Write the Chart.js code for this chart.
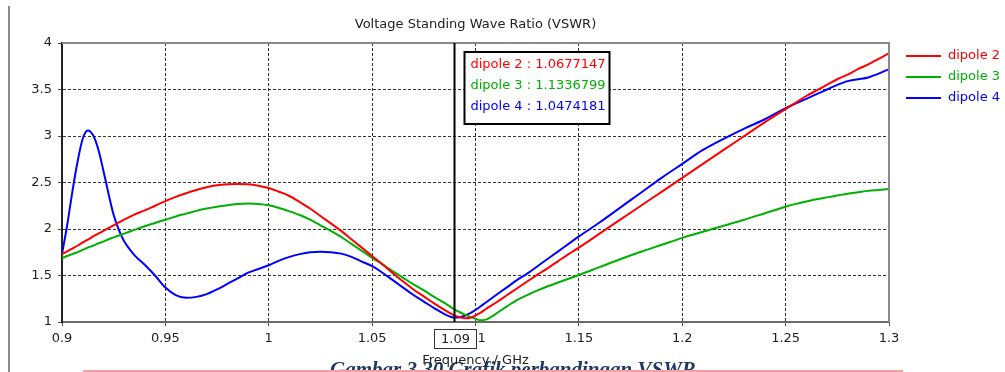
<!DOCTYPE html>
<html>
<head>
<meta charset="utf-8">
<title>VSWR</title>
<script src="https://cdn.jsdelivr.net/npm/chart.js@4.4.1/dist/chart.umd.min.js"></script>
<style>
  html, body { margin: 0; padding: 0; background: #ffffff; }
  #wrap { width: 1005px; height: 372px; position: relative; overflow: hidden; }
</style>
</head>
<body>
<div id="wrap"><canvas id="vswr" width="1005" height="372"></canvas></div>
<script>
// Frequency sweep (GHz) shared by all three antennas
const frequencies = [
  0.900, 0.9025, 0.905, 0.9075, 0.910, 0.9125, 0.915, 0.9175, 0.920, 0.9225,
  0.925, 0.9275, 0.930, 0.935, 0.940, 0.945, 0.950, 0.955, 0.960, 0.965,
  0.970, 0.975, 0.980, 0.985, 0.990, 0.995, 1.000, 1.005, 1.010, 1.015,
  1.020, 1.025, 1.030, 1.035, 1.040, 1.045, 1.050, 1.055, 1.060, 1.065,
  1.070, 1.075, 1.080, 1.085, 1.090, 1.0925, 1.095, 1.0975, 1.100, 1.1025,
  1.105, 1.110, 1.115, 1.120, 1.125, 1.130, 1.135, 1.140, 1.145, 1.150,
  1.160, 1.170, 1.180, 1.190, 1.200, 1.210, 1.220, 1.230, 1.240, 1.250,
  1.255, 1.260, 1.265, 1.270, 1.275, 1.280, 1.285, 1.290, 1.295, 1.300
];

// VSWR of each dipole at the frequencies above
const dipole2 = [
  1.73, 1.76, 1.79, 1.82, 1.855, 1.885, 1.92, 1.95, 1.98, 2.01,
  2.04, 2.07, 2.10, 2.155, 2.20, 2.25, 2.30, 2.345, 2.385, 2.42,
  2.45, 2.47, 2.48, 2.485, 2.48, 2.465, 2.44, 2.40, 2.355, 2.29,
  2.22, 2.14, 2.06, 1.98, 1.89, 1.80, 1.71, 1.62, 1.525, 1.435,
  1.35, 1.275, 1.20, 1.13, 1.0677147, 1.05, 1.04, 1.045, 1.07, 1.10,
  1.14, 1.21, 1.285, 1.36, 1.435, 1.51, 1.58, 1.655, 1.73, 1.80,
  1.95, 2.10, 2.25, 2.40, 2.55, 2.70, 2.85, 3.00, 3.15, 3.29,
  3.36, 3.43, 3.49, 3.55, 3.61, 3.66, 3.72, 3.77, 3.83, 3.89
];
const dipole3 = [
  1.685, 1.71, 1.73, 1.75, 1.775, 1.80, 1.82, 1.845, 1.865, 1.89,
  1.91, 1.93, 1.95, 1.99, 2.03, 2.065, 2.10, 2.135, 2.165, 2.195,
  2.22, 2.24, 2.255, 2.27, 2.275, 2.27, 2.255, 2.225, 2.19, 2.15,
  2.10, 2.04, 1.98, 1.915, 1.84, 1.765, 1.69, 1.62, 1.545, 1.475,
  1.405, 1.34, 1.27, 1.205, 1.1336799, 1.105, 1.08, 1.055, 1.035, 1.018,
  1.025, 1.09, 1.165, 1.235, 1.29, 1.34, 1.385, 1.425, 1.465, 1.505,
  1.59, 1.675, 1.755, 1.83, 1.905, 1.97, 2.035, 2.10, 2.17, 2.24,
  2.27, 2.295, 2.32, 2.34, 2.36, 2.38, 2.395, 2.41, 2.42, 2.43
];
const dipole4 = [
  1.73, 2.04, 2.40, 2.72, 2.97, 3.06, 3.01, 2.86, 2.63, 2.38,
  2.15, 1.99, 1.87, 1.72, 1.615, 1.50, 1.37, 1.29, 1.26, 1.27,
  1.30, 1.35, 1.41, 1.47, 1.53, 1.57, 1.61, 1.66, 1.70, 1.73,
  1.75, 1.755, 1.75, 1.735, 1.70, 1.65, 1.60, 1.53, 1.45, 1.37,
  1.29, 1.22, 1.15, 1.085, 1.0474181, 1.05, 1.07, 1.095, 1.13, 1.17,
  1.21, 1.29, 1.37, 1.45, 1.52, 1.60, 1.68, 1.76, 1.84, 1.92,
  2.07, 2.23, 2.39, 2.55, 2.70, 2.85, 2.97, 3.08, 3.18, 3.30,
  3.35, 3.40, 3.45, 3.50, 3.55, 3.59, 3.61, 3.63, 3.67, 3.72
];

const seriesNames = ['dipole 2', 'dipole 3', 'dipole 4'];
const seriesValues = [dipole2, dipole3, dipole4];
const seriesColors = ['#ff0000', '#00b000', '#0000ff'];

const xRange = [0.9, 1.3];
const xStep = 0.05;
const yRange = [1, 4];
const yStep = 0.5;

const chartTitle = 'Voltage Standing Wave Ratio (VSWR)';
const xAxisTitle = 'Frequency / GHz';
const markerFrequency = 1.09;
const captionText = 'Gambar 3.30 Grafik perbandingan VSWR';

const uiFont = '"DejaVu Sans", Verdana, sans-serif';

function fmtTick(v) {
  return String(parseFloat(Number(v).toFixed(3)));
}

function isEdge(value, range) {
  return Math.abs(value - range[0]) < 1e-9 || Math.abs(value - range[1]) < 1e-9;
}

// Extra drawing: title, frame, marker line with read-out, legend, caption
const decorations = {
  id: 'decorations',
  beforeDraw(chart) {
    const ctx = chart.ctx;
    ctx.save();
    // page margin rule on the left
    ctx.strokeStyle = '#8c8c8c';
    ctx.lineWidth = 2;
    ctx.beginPath();
    ctx.moveTo(9, 6);
    ctx.lineTo(9, 372);
    ctx.stroke();
    // document caption below the plot
    ctx.fillStyle = '#1f3864';
    ctx.font = 'bold italic 21px "Liberation Serif", serif';
    ctx.textAlign = 'left';
    ctx.textBaseline = 'alphabetic';
    ctx.fillText(captionText, 330, 376);
    ctx.strokeStyle = '#f2a0a0';
    ctx.lineWidth = 2;
    ctx.beginPath();
    ctx.moveTo(83, 371);
    ctx.lineTo(903, 371);
    ctx.stroke();
    ctx.restore();
  },
  afterDatasetsDraw(chart) {
    const ctx = chart.ctx;
    const area = chart.chartArea;
    const xs = chart.scales.x;
    ctx.save();
    // top and right frame
    ctx.strokeStyle = '#8a8a8a';
    ctx.lineWidth = 2;
    ctx.beginPath();
    ctx.moveTo(area.left, area.top);
    ctx.lineTo(area.right, area.top);
    ctx.lineTo(area.right, area.bottom);
    ctx.stroke();
    // marker line
    const mx = Math.round(xs.getPixelForValue(markerFrequency)) - 0.5;
    ctx.strokeStyle = '#000000';
    ctx.lineWidth = 2;
    ctx.beginPath();
    ctx.moveTo(mx, area.top);
    ctx.lineTo(mx, area.bottom);
    ctx.stroke();
    ctx.restore();
  },
  afterDraw(chart) {
    const ctx = chart.ctx;
    const area = chart.chartArea;
    const xs = chart.scales.x;
    const mx = Math.round(xs.getPixelForValue(markerFrequency)) - 0.5;
    const idx = frequencies.findIndex(f => Math.abs(f - markerFrequency) < 1e-9);
    ctx.save();

    // chart title
    ctx.fillStyle = '#222222';
    ctx.font = '13px ' + uiFont;
    ctx.textAlign = 'center';
    ctx.textBaseline = 'middle';
    ctx.fillText(chartTitle, (area.left + area.right) / 2, 25);

    // x-axis title
    ctx.fillText(xAxisTitle, (area.left + area.right) / 2, 361);

    // marker frequency box on the x axis
    const bw = 42, bh = 19;
    const bx = Math.round(mx - bw / 2) + 0.5, by = 329.5;
    ctx.fillStyle = '#ffffff';
    ctx.fillRect(bx, by, bw, bh);
    ctx.strokeStyle = '#333333';
    ctx.lineWidth = 1;
    ctx.strokeRect(bx, by, bw, bh);
    ctx.fillStyle = '#222222';
    ctx.fillText(fmtTick(markerFrequency), bx + bw / 2, by + bh / 2 + 0.5);

    // read-out box at the marker
    const tx = mx + 10, ty = 52, tw = 145, th = 72;
    ctx.fillStyle = '#ffffff';
    ctx.fillRect(tx, ty, tw, th);
    ctx.strokeStyle = '#000000';
    ctx.lineWidth = 2;
    ctx.strokeRect(tx, ty, tw, th);
    ctx.textAlign = 'left';
    seriesNames.forEach((name, i) => {
      ctx.fillStyle = seriesColors[i];
      ctx.fillText(name + ' : ' + seriesValues[i][idx].toFixed(7), tx + 6, 65 + i * 21);
    });

    // legend
    seriesNames.forEach((name, i) => {
      const ly = 56 + i * 21;
      ctx.strokeStyle = seriesColors[i];
      ctx.lineWidth = 2;
      ctx.beginPath();
      ctx.moveTo(906, ly);
      ctx.lineTo(941, ly);
      ctx.stroke();
      ctx.fillStyle = seriesColors[i];
      ctx.fillText(name, 948, ly);
    });
    ctx.restore();
  }
};

const datasets = seriesValues.map((vals, i) => ({
  label: seriesNames[i],
  data: frequencies.map((f, j) => ({ x: f, y: vals[j] })),
  borderColor: seriesColors[i],
  backgroundColor: seriesColors[i],
  borderWidth: 2,
  pointRadius: 0,
  fill: false,
  cubicInterpolationMode: 'monotone'
}));

new Chart(document.getElementById('vswr'), {
  type: 'line',
  data: { datasets },
  options: {
    responsive: false,
    animation: false,
    devicePixelRatio: 1,
    layout: { padding: { left: 0, right: 116, top: 43, bottom: 0 } },
    plugins: {
      legend: { display: false },
      title: { display: false },
      tooltip: { enabled: false }
    },
    scales: {
      x: {
        type: 'linear',
        min: xRange[0],
        max: xRange[1],
        afterFit: s => { s.height = 50; },
        ticks: {
          stepSize: xStep,
          autoSkip: false,
          maxRotation: 0,
          padding: 5,
          color: '#222222',
          font: { family: uiFont, size: 13 },
          callback: v => fmtTick(v)
        },
        grid: {
          color: c => (c.tick && isEdge(c.tick.value, xRange)) ? 'rgba(0,0,0,0)' : '#333333',
          lineWidth: 1,
          tickLength: 4,
          tickColor: '#555555',
          tickWidth: 1
        },
        border: { color: '#6a6a6a', width: 2, dash: [3, 2] }
      },
      y: {
        type: 'linear',
        min: yRange[0],
        max: yRange[1],
        afterFit: s => { s.width = 62; },
        ticks: {
          stepSize: yStep,
          padding: 6,
          color: '#222222',
          font: { family: uiFont, size: 13 },
          callback: v => fmtTick(v)
        },
        grid: {
          color: c => (c.tick && isEdge(c.tick.value, yRange)) ? 'rgba(0,0,0,0)' : '#333333',
          lineWidth: 1,
          tickLength: 4,
          tickColor: '#555555',
          tickWidth: 1
        },
        border: { color: '#222222', width: 2, dash: [3, 2] }
      }
    }
  },
  plugins: [decorations]
});
</script>
</body>
</html>
